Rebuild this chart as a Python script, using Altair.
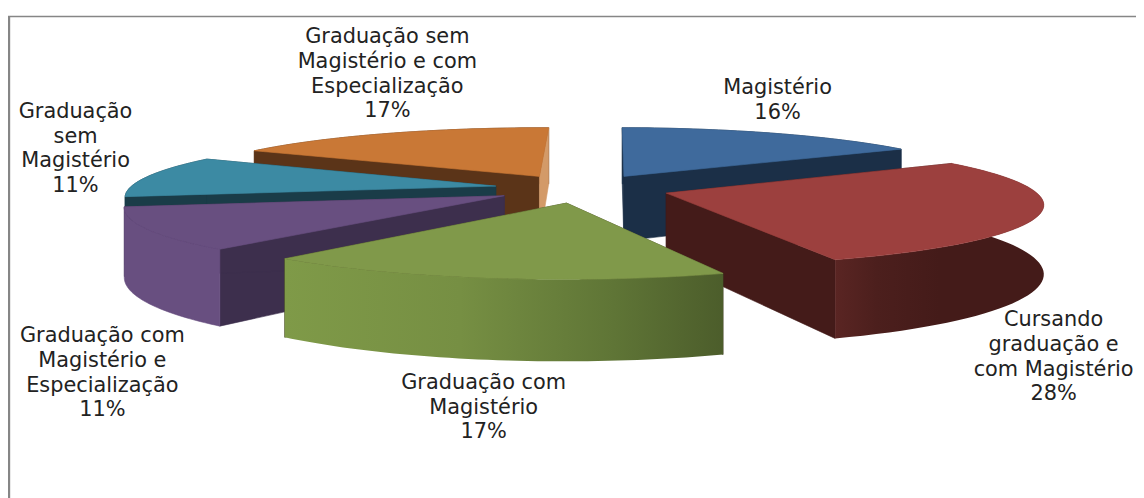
import math
import altair as alt

# ---- values ----
categories = ["Magistério", "Cursando graduação e com Magistério", "Graduação com Magistério",
              "Graduação com Magistério e Especialização", "Graduação sem Magistério",
              "Graduação sem Magistério e com Especialização"]
shares = [16, 28, 17, 11, 11, 17]
label_lines = [
    "Magistério\n16%",
    "Cursando\ngraduação e\ncom Magistério\n28%",
    "Graduação com\nMagistério\n17%",
    "Graduação com\nMagistério e\nEspecialização\n11%",
    "Graduação\nsem\nMagistério\n11%",
    "Graduação sem\nMagistério e com\nEspecialização\n17%",
]

# ---- layout / style (kept apart from the values) ----
label_cx = [783, 1061, 487, 103, 76, 390]
label_by = [93, 327, 390, 343, 117, 42]
top_col = ["#3f6a9c", "#9c403e", "#80994a", "#684f80", "#3c8aa3", "#c97836"]
dark_col = ["#1b2f47", "#441b19", "#3d3a20", "#3d2f4d", "#1a3c48", "#5b3418"]
end_col = ["#1b2f47", "#441b19", "#3d3a20", "#3d2f4d", "#1a3c48", "#d39a68"]
CX, CY, R, RY, K, EXPL, DEPTH, ROT = 578, 180, 369, 60, 0.153, 0.24, 67, 0.7
draw_order = [5, 0, 4, 3, 1, 2]


def grad(stops):
    return alt.LinearGradient(
        gradient="linear", x1=0, x2=1, y1=0, y2=0,
        stops=[alt.GradientStop(color=c, offset=o) for o, c in stops],
    )


outer_fill = {
    0: "#1b2f47",
    1: grad([(0, "#5a2523"), (0.2, "#4c1f1d"), (0.5, "#441b19"), (1, "#441b19")]),
    2: grad([(0, "#7f9a48"), (0.4, "#768f43"), (0.75, "#5f7536"), (1, "#4c5d2b")]),
    3: "#684f80",
    4: "#1a3c48",
    5: "#5b3418",
}


def project(u, v, drop=0.0):
    s = 1 / (1 - K * v)
    return [CX + R * u * s, CY + RY * v * s + DEPTH * drop * s]


def shape(points, fill):
    feature = {"type": "Feature", "properties": {},
               "geometry": {"type": "Polygon", "coordinates": [points + [points[0]]]}}
    style = {"fill": fill, "strokeWidth": 0}
    if isinstance(fill, str):
        style = {"fill": fill, "stroke": fill, "strokeWidth": 0.6}
    return alt.Chart(alt.Data(values=[feature])).mark_geoshape(**style).project(
        type="identity", scale=1, translate=[0, 0])


layers = []
starts = []
acc = ROT
for p in shares:
    starts.append(acc)
    acc += p * 3.6

for i in draw_order:
    a0, a1 = math.radians(starts[i]), math.radians(starts[i] + shares[i] * 3.6)
    am = (a0 + a1) / 2
    ou, ov = EXPL * math.sin(am), -EXPL * math.cos(am)
    angs = [a0 + (a1 - a0) * t / 48 for t in range(49)]
    arc = [(ou + math.sin(a), ov - math.cos(a)) for a in angs]

    top = [project(ou, ov)] + [project(u, v) for u, v in arc]
    wall = [project(u, v) for u, v in arc] + [project(u, v, 1) for u, v in reversed(arc)]

    def radial(pt):
        return [project(ou, ov), project(*pt), project(*pt, 1), project(ou, ov, 1)]

    start_wall = shape(radial(arc[0]), dark_col[i])
    end_wall = shape(radial(arc[-1]), end_col[i])
    outer = shape(wall, outer_fill[i])
    if i in (1, 2, 3):  # front slices: curved wall in front of radial walls
        layers += [start_wall, end_wall, outer]
    else:               # back slices: curved wall lies behind
        layers += [outer, start_wall, end_wall]
    layers.append(shape(top, top_col[i]))

frame_top = alt.Chart(alt.Data(values=[{"a": 0}])).mark_rule(color="#868686", strokeWidth=1.6).encode(
    x=alt.value(0), x2=alt.value(1140), y=alt.value(6.8))
frame_left = alt.Chart(alt.Data(values=[{"a": 0}])).mark_rule(color="#868686", strokeWidth=2.6).encode(
    x=alt.value(0.9), y=alt.value(6.5), y2=alt.value(500))

labels = alt.Chart(alt.Data(values=[
    {"label": t, "px": x - 8, "py": y - 8, "name": c}
    for t, x, y, c in zip(label_lines, label_cx, label_by, categories)
])).mark_text(
    font="DejaVu Sans", fontSize=21, align="center", baseline="alphabetic",
    lineBreak="\n", lineHeight=24.8, color="#222222",
).encode(
    x=alt.X("px:Q", scale=None, axis=None),
    y=alt.Y("py:Q", scale=None, axis=None),
    text="label:N",
)

chart = alt.layer(frame_top, frame_left, *layers, labels).properties(
    width=1136, height=490, padding=0, autosize=alt.AutoSizeParams(type="none"),
    background="white",
).configure_view(stroke=None)

chart.save("out.html", embed_options={"renderer": "svg", "actions": False})
